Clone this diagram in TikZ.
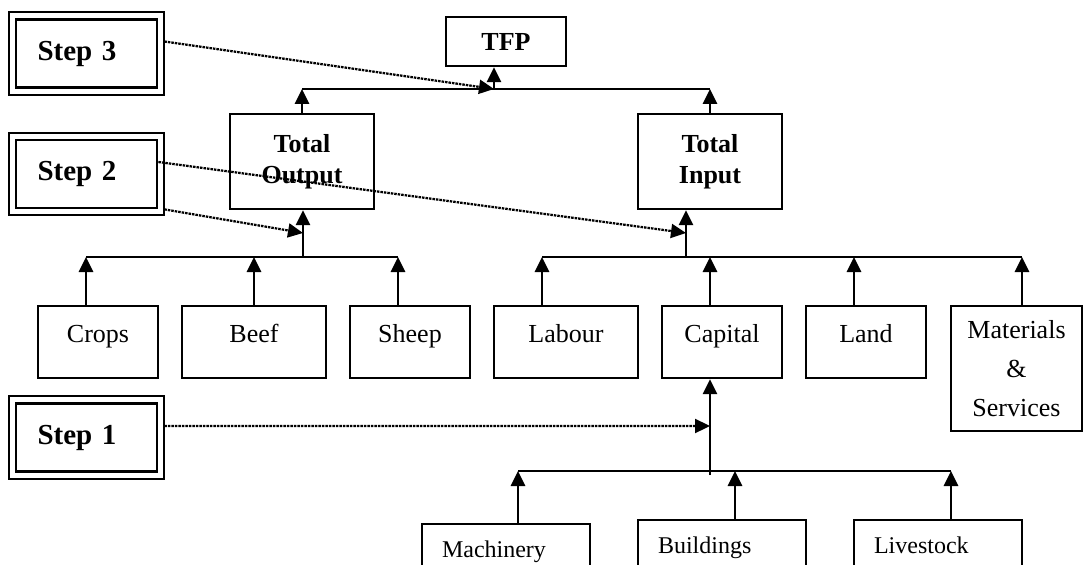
\documentclass[tikz,border=0pt]{standalone}
\usepackage{fontspec}
\setmainfont{Liberation Serif}
\usepackage{tikz}
\usetikzlibrary{arrows.meta, positioning, calc}

\begin{document}
\begin{tikzpicture}[
    x=0.4pt, y=-0.4pt,
    every node/.style={font=\fontsize{10.4}{12.4}\selectfont},
    box/.style={rectangle, draw, line width=0.9pt, align=center, inner sep=0pt},
    leaf/.style={box, minimum height=28.8pt, text height=7pt, text depth=7pt},
    total/.style={box, minimum width=57.6pt, minimum height=38pt, font=\fontsize{10.4}{12.4}\selectfont\bfseries},
    stepbox/.style={rectangle, draw, line width=1.1pt, minimum height=27.2pt, text width=39.2pt, inner xsep=8.6pt, align=left, font=\fontsize{11.6}{13}\selectfont\bfseries},
    stepframe/.style={line width=0.75pt},
    subbox/.style={box, anchor=north, text width=51.2pt, inner xsep=8pt, inner ysep=6.6pt, text height=6.6pt, align=left, font=\fontsize{9.6}{11}\selectfont},
    bus/.style={line width=0.8pt},
    stem/.style={line width=1.1pt, -{Triangle[width=5.6pt, length=6pt]}},
    hint/.style={line width=0.9pt, dash pattern=on 1pt off 0.4pt, -{Triangle[width=5.6pt, length=6pt]}}
]
\useasboundingbox (0,0) rectangle (1084,565);
\clip (0,0) rectangle (1084,565);

\node[stepbox] (s3) at (86.5,53.5) {Step 3};
\node[stepbox] (s2) at (86.5,174) {Step 2};
\node[stepbox] (s1) at (86.5,437.5) {Step 1};
\foreach \s in {s1,s2,s3}
    \draw[stepframe] ([shift={(-2.4pt,2.4pt)}]\s.north west) rectangle ([shift={(2.4pt,-2.4pt)}]\s.south east);

\node[total, minimum width=48pt, minimum height=19.6pt] (tfp) at (506,41.5) {TFP};
\node[total] (tout) at (302,161.5) {Total\\Output};
\node[total] (tin) at (710,161.5) {Total\\Input};

\node[leaf, minimum width=48pt] (crops) at (98,342) {Crops};
\node[leaf, minimum width=57.6pt] (beef) at (254,342) {Beef};
\node[leaf, minimum width=48pt] (sheep) at (410,342) {Sheep};
\node[leaf, minimum width=57.6pt] (labour) at (566,342) {Labour};
\node[leaf, minimum width=48pt] (capital) at (722,342) {Capital};
\node[leaf, minimum width=48pt] (land) at (866,342) {Land};
\node[box, minimum width=52.4pt, minimum height=50pt, font=\fontsize{10.4}{15.5}\selectfont] (mat) at (1016.5,368.5) {Materials\\\&\\Services};

\node[subbox] (mach) at (506,523) {Machinery};
\node[subbox] (build) at (722,519) {Buildings};
\node[subbox] (live) at (938,519) {Livestock};

% junctions
\coordinate (b1t) at (494,89);
\coordinate (b2o) at (303,257);
\coordinate (b2i) at (686,257);
\coordinate (b3) at (710,471);
\coordinate (j2o) at (303,233);
\coordinate (j2i) at (686,233);
\coordinate (j1) at (710,426);
\coordinate (t1) at (86,257);
\coordinate (t2) at (254,257);
\coordinate (t3) at (398,257);
\coordinate (t4) at (542,257);
\coordinate (t5) at (710,257);
\coordinate (t6) at (854,257);
\coordinate (t7) at (1022,257);
\coordinate (u1) at (518,471);
\coordinate (u2) at (735,471);
\coordinate (u3) at (951,471);

\draw[bus] (tout.north |- b1t) -- (tin.north |- b1t);
\draw[stem] (b1t) -- (b1t |- tfp.south);
\draw[stem] (tout.north) -- (tout.north |- b1t);
\draw[stem] (tin.north) -- (tin.north |- b1t);

\draw[bus] (t1) -- (t3);
\draw[bus] (t4) -- (t7);
\draw[stem] (b2o) -- (b2o |- tout.south);
\draw[stem] (b2i) -- (b2i |- tin.south);
\foreach \n/\t in {crops/t1, beef/t2, sheep/t3, labour/t4, capital/t5, land/t6, mat/t7}
    \draw[stem] (\n.north -| \t) -- (\t);

\draw[bus] (u1) -- (u3);
\draw[stem] ([yshift=-1.6pt]b3) -- (b3 |- capital.south);
\foreach \n/\t in {mach/u1, build/u2, live/u3}
    \draw[stem] (\n.north -| \t) -- (\t);

\draw[hint] ([xshift=2.4pt, yshift=4.8pt]s3.east) -- (b1t);
\draw[hint] ([yshift=4.8pt]s2.east) -- (j2i);
\draw[hint] ([xshift=2.4pt]s2.south east) -- (j2o);
\draw[hint] ([xshift=2.4pt, yshift=4.6pt]s1.east) -- (j1);
\end{tikzpicture}
\end{document}
